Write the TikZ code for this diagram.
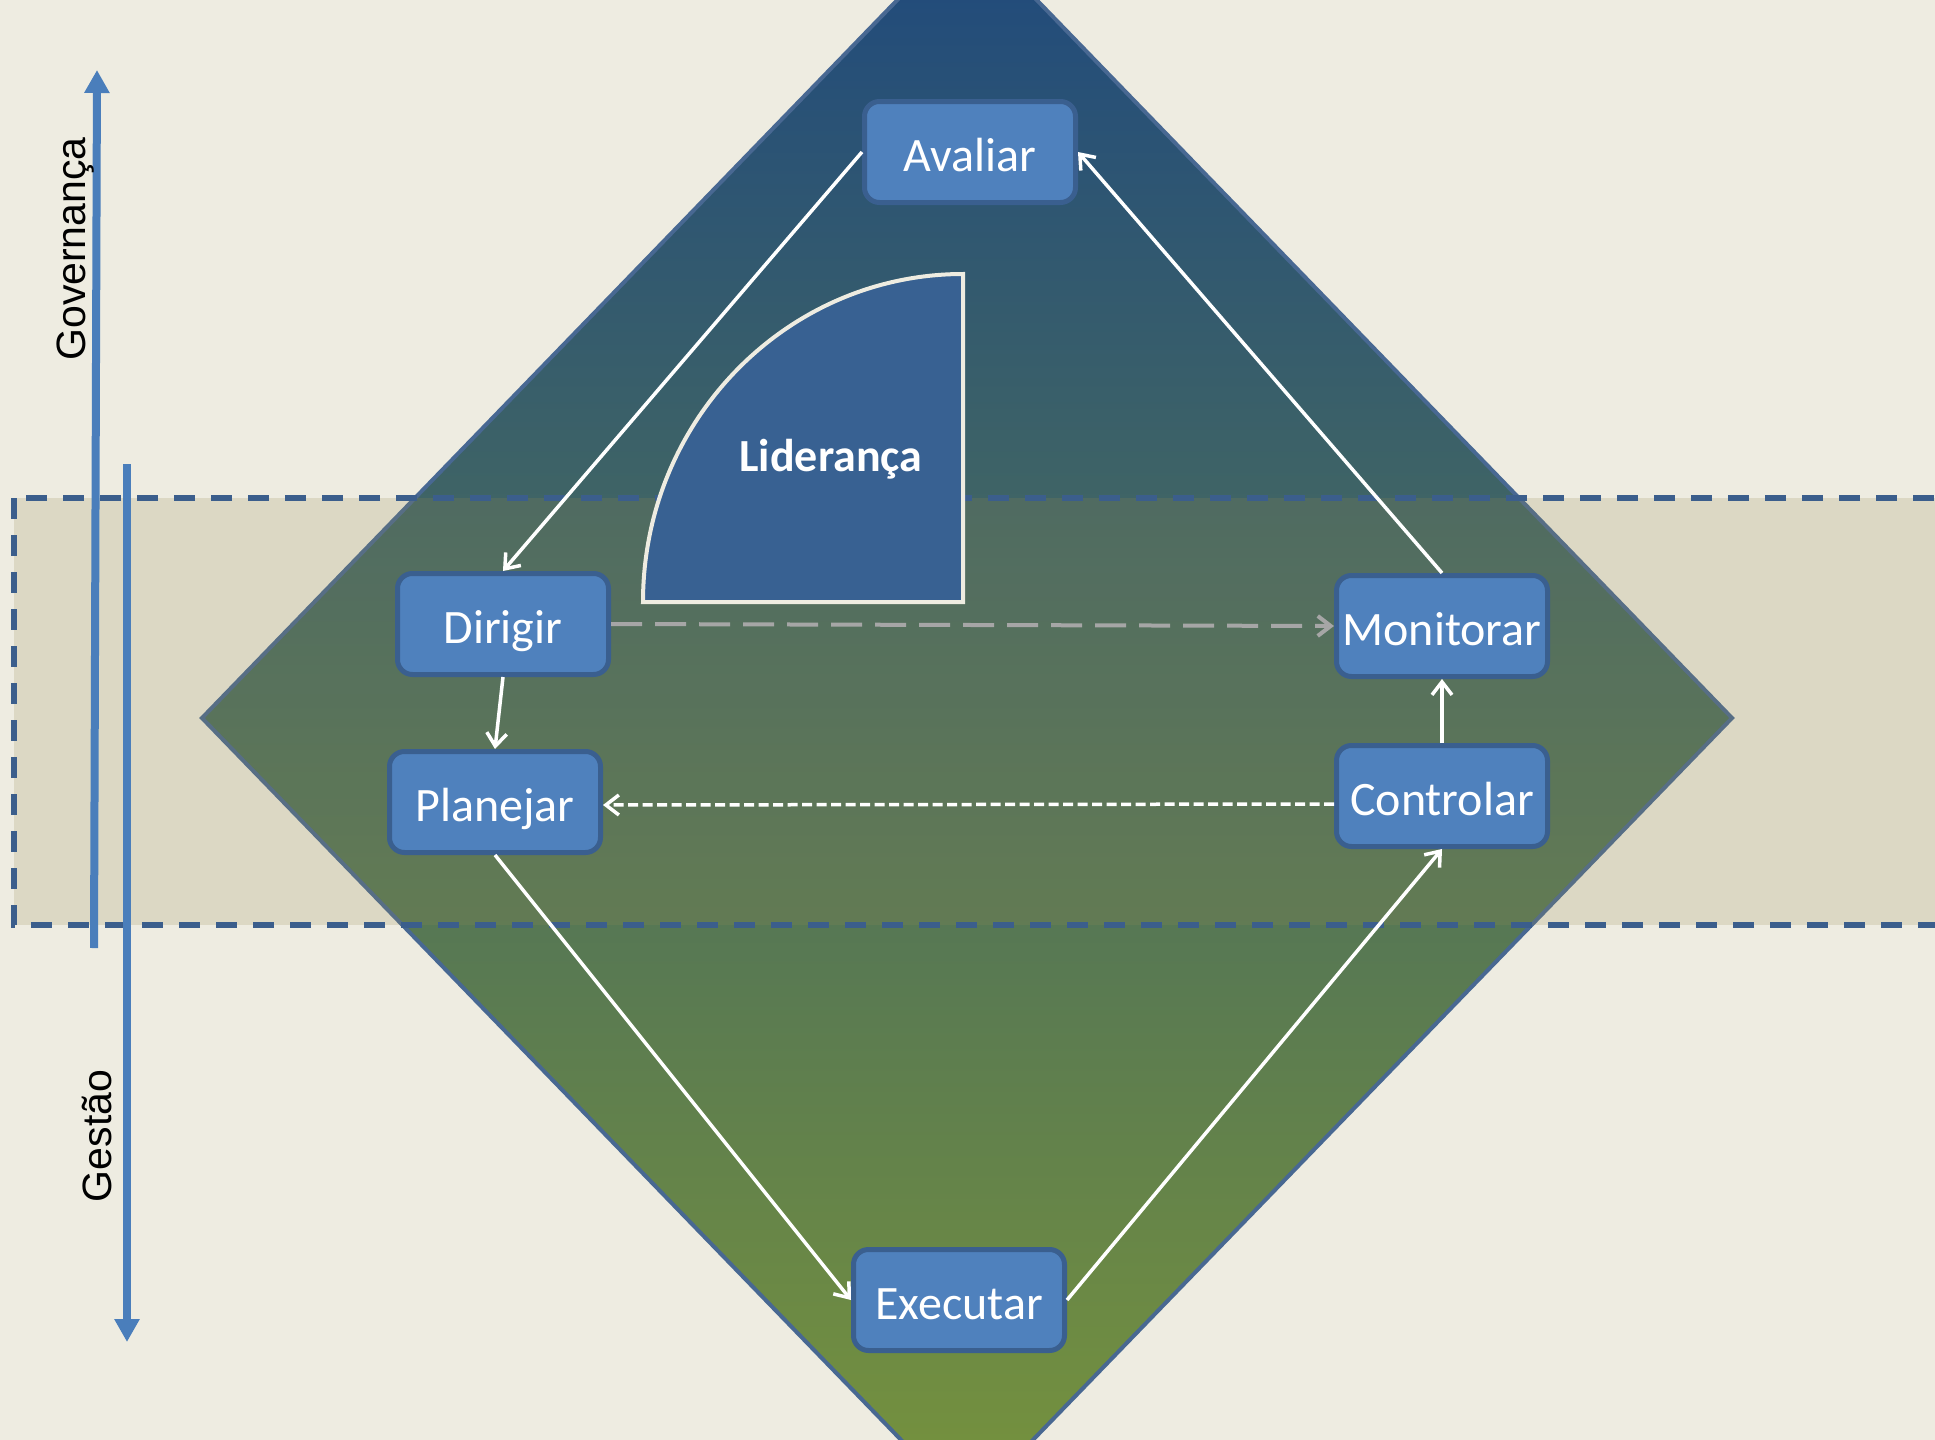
\documentclass[tikz,border=0pt]{standalone}
\usepackage{fontspec}
\newfontfamily\boxfont{Carlito}
\newfontfamily\sidefont{Liberation Sans}
\usetikzlibrary{arrows.meta}
\definecolor{bgcream}{HTML}{EEECE1}
\definecolor{bandtan}{HTML}{948A54}
\definecolor{banddash}{HTML}{3B5E8C}
\definecolor{diatop}{HTML}{1F497D}
\definecolor{diabot}{HTML}{77933C}
\definecolor{diaedge}{HTML}{486892}
\definecolor{boxfill}{HTML}{4F81BD}
\definecolor{boxedge}{HTML}{3A5F8F}
\definecolor{lidfill}{HTML}{386192}
\definecolor{sidearrow}{HTML}{4A7EBB}
\definecolor{grayline}{HTML}{A6A6A6}
\begin{document}
\begin{tikzpicture}[x=0.5pt,y=-0.5pt,
  stepbox/.style={draw=boxedge, line width=2.5pt, fill=boxfill, rounded corners=7.5pt,
    minimum width=105.5pt, minimum height=50.5pt, inner sep=0pt,
    text height=19pt, text depth=0pt, text=white,
    font=\boxfont\fontsize{24pt}{28pt}\selectfont},
  flow/.style={draw=white, line width=1.75pt, -{Straight Barb[length=6.5pt,width=10pt]}},
  grayflow/.style={draw=grayline, line width=2pt, dash pattern=on 15.5pt off 6.5pt,
    -{Straight Barb[length=6.5pt,width=10pt]}},
  dashflow/.style={draw=white, line width=1.75pt, dash pattern=on 5pt off 2.25pt,
    -{Straight Barb[length=6.5pt,width=10pt]}},
  sidebar/.style={draw=sidearrow, line width=4pt, -{Triangle[length=11.5pt,width=12pt]}},
  sidelabel/.style={rotate=90, anchor=base, inner sep=0pt, text=black,
    font=\sidefont\fontsize{20.5pt}{24pt}\selectfont}
]
\useasboundingbox (0,0) rectangle (1935,1440);
\clip (0,0) rectangle (1935,1440);
\fill[bgcream] (0,0) rectangle (1935,1440);
% diamond
\path[draw=diaedge, line width=2pt, top color=diatop, bottom color=diabot]
  (202,718) -- (967,-72) -- (1732,718) -- (967,1508) -- cycle;
% band
\draw[draw=banddash, line width=2.75pt, dash pattern=on 10.5pt off 8pt,
  fill=bandtan, fill opacity=0.2] (14,498) rectangle (1990,925);
% Lideranca shape
\draw[draw=bgcream, line width=2pt, fill=lidfill]
  (643,602) -- (963,602) -- (963,274)
  arc[start angle=90, end angle=180, x radius=160pt, y radius=164pt] -- cycle;
\node[font=\boxfont\bfseries\fontsize{23pt}{27pt}\selectfont, text=white,
  anchor=base, inner sep=0pt] (lideranca) at (831,471) {Liderança};
% side arrows
\coordinate (govbot) at (94,948);
\coordinate (govtop) at (97,70);
\coordinate (gesttop) at (127,464);
\coordinate (gestbot) at (127,1342);
\draw[sidebar] (govbot) -- (govtop);
\draw[sidebar] (gesttop) -- (gestbot);
\node[sidelabel] (governanca) at (85,249) {Governança};
\node[sidelabel] (gestao) at (112,1136) {Gestão};
% boxes
\node[stepbox] (avaliar) at (970,152) {Avaliar};
\node[stepbox] (dirigir) at (503,624) {Dirigir};
\node[stepbox] (planejar) at (495,802) {Planejar};
\node[stepbox] (monitorar) at (1442,626) {Monitorar};
\node[stepbox] (controlar) at (1442,796) {Controlar};
\node[stepbox] (executar) at (959,1300) {Executar};
% connectors
\draw[flow] (avaliar.west) -- (dirigir.north);
\draw[flow] (dirigir.south) -- (planejar.north);
\draw[flow] (planejar.south) -- (executar.west);
\draw[flow] (executar.east) -- (controlar.south);
\draw[flow] (controlar.north) -- (monitorar.south);
\draw[flow] (monitorar.north) -- (avaliar.east);
\draw[grayflow] (dirigir.east) -- (monitorar.west);
\draw[dashflow] ([yshift=-4pt]controlar.west) -- ([yshift=-1.5pt]planejar.east);
\end{tikzpicture}
\end{document}
